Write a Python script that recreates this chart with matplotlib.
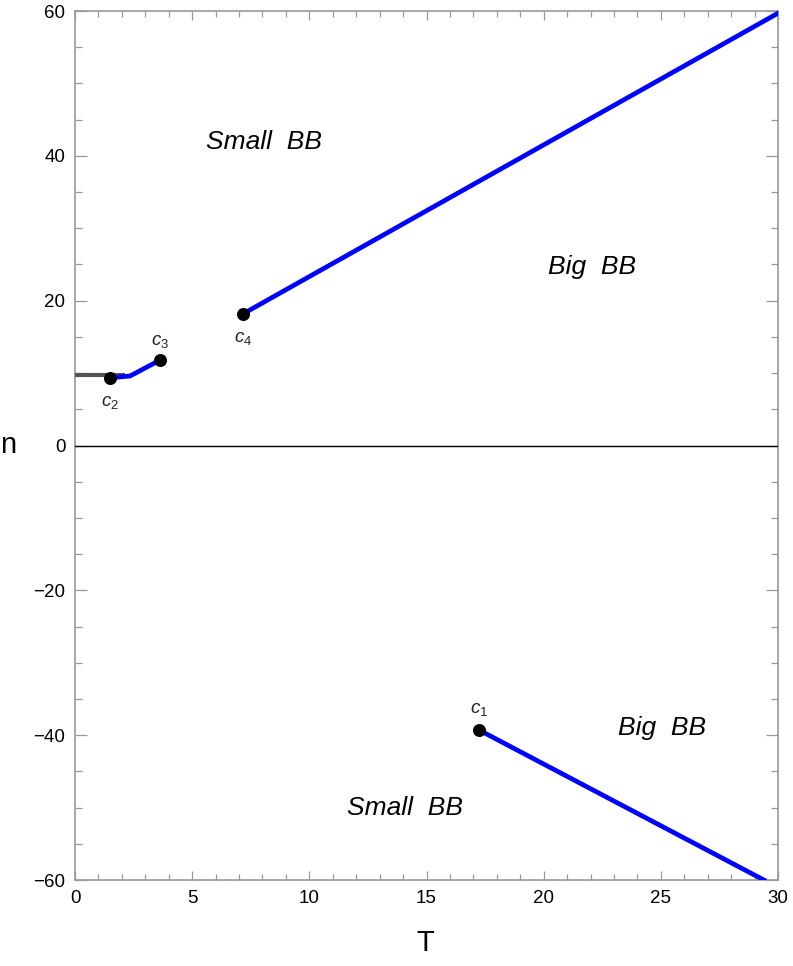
import matplotlib.pyplot as plt
from matplotlib.ticker import MultipleLocator

plt.rcParams['font.family'] = 'Liberation Sans'
plt.rcParams['mathtext.fontset'] = 'custom'
plt.rcParams['mathtext.rm'] = 'Liberation Sans'
plt.rcParams['mathtext.it'] = 'Liberation Sans:italic'

# phase boundary curves (T, n)
upper_T = [7.18, 30.0]
upper_n = [18.2, 59.7]
lower_T = [17.25, 29.4]
lower_n = [-39.3, -60.0]
small_T = [1.49, 2.35, 3.63]
small_n = [9.35, 9.6, 11.8]
gray_T = [0.0, 2.13]
gray_n = [9.74, 9.74]

# critical points
crit_names = ['c_1', 'c_2', 'c_3', 'c_4']
crit_T = [17.25, 1.49, 3.63, 7.18]
crit_n = [-39.3, 9.35, 11.8, 18.2]
crit_offset = [14.5, -17.5, 13.5, -17.5]

# region labels
region_text = ['Small  BB', 'Big  BB', 'Big  BB', 'Small  BB']
region_T = [8.07, 22.07, 25.04, 14.08]
region_n = [41.9, 24.65, -39.0, -50.07]

fig = plt.figure(figsize=(7.93, 9.66), dpi=100)
ax = fig.add_axes([0.0946, 0.089, 0.8865, 0.8996])

ax.axhline(0, color='black', lw=1.0, zorder=2.7)
ax.plot(gray_T, gray_n, color='#555555', lw=3.0, solid_capstyle='butt', zorder=3)
ax.plot(small_T, small_n, color='#0000ff', lw=3.4, zorder=3)
ax.plot(upper_T, upper_n, color='#0000ff', lw=3.4, zorder=3)
ax.plot(lower_T, lower_n, color='#0000ff', lw=3.4, zorder=3)
ax.scatter(crit_T, crit_n, s=70, color='black', zorder=5)

for name, t, n, dy in zip(crit_names, crit_T, crit_n, crit_offset):
    ax.annotate('$' + name + '$', (t, n), xytext=(0, dy), textcoords='offset points',
                ha='center', va='center', fontsize=13.5, color='#222222')

for s, t, n in zip(region_text, region_T, region_n):
    ax.text(t, n, s, fontsize=19, style='italic', ha='center', va='center')

ax.set_xlim(0, 30)
ax.set_ylim(-60, 60)
ax.xaxis.set_major_locator(MultipleLocator(5))
ax.xaxis.set_minor_locator(MultipleLocator(1))
ax.yaxis.set_major_locator(MultipleLocator(20))
ax.yaxis.set_minor_locator(MultipleLocator(5))
ax.tick_params(which='both', direction='in', top=True, right=True, color='#999999',
               labelsize=13.5, width=0.9)
ax.tick_params(axis='x', which='major', length=6.5, pad=7)
ax.tick_params(axis='x', which='minor', length=4)
ax.tick_params(axis='y', which='major', length=8.5, pad=7)
ax.tick_params(axis='y', which='minor', length=5)
for sp in ax.spines.values():
    sp.set_color('#999999')
    sp.set_linewidth(1.2)

fig.text(8 / 793, 1 - 445 / 966, 'n', fontsize=21, ha='center', va='center')
fig.text(425 / 793, 1 - 943 / 966, 'T', fontsize=21, ha='center', va='center')

plt.savefig('out.png', dpi=100)
plt.close()
